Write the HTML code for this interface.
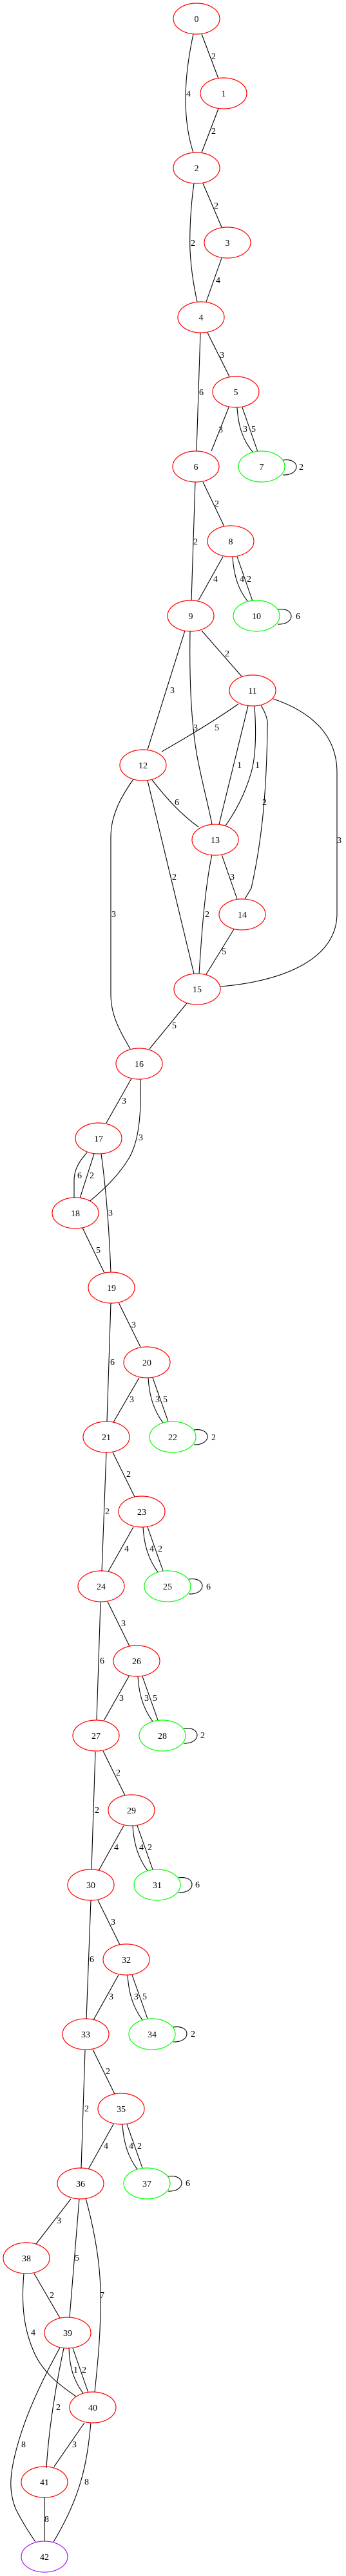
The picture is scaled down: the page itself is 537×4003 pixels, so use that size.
<!DOCTYPE html>
<html><head><meta charset="utf-8"><style>
html,body{margin:0;padding:0;background:#fff}
svg{display:block}
text{font-family:"Liberation Serif",serif;font-size:14px;fill:#000}
.n{fill:none;stroke-width:1.2}
.e{fill:none;stroke:#000;stroke-width:1.1}
</style></head><body>
<svg width="537" height="4003" viewBox="0 0 537 4003" xmlns="http://www.w3.org/2000/svg">
<g class="edges">
<path class="e" d="M313,53 L339,122"/>
<path class="e" d="M300,53 C290,100 285,145 290,190 C293,215 297,228 300,237"/>
<path class="e" d="M339,169 L313,237"/>
<path class="e" d="M315,285 L344,353"/>
<path class="e" d="M301,285 C296,320 294,360 295,390 C297,425 302,450 306,469"/>
<path class="e" d="M344,401 L320,469"/>
<path class="e" d="M322,517 L356,585"/>
<path class="e" d="M311,517 L305,701"/>
<path class="e" d="M355,633 L328,701"/>
<path class="e" d="M368,633 C370,665 378,685 392,702"/>
<path class="e" d="M376,633 L400,702"/>
<path class="e" d="M439,715 C467,711 467,739 439,738"/>
<path class="e" d="M315,749 L348,818"/>
<path class="e" d="M303,749 L297,933"/>
<path class="e" d="M346,865 L308,933"/>
<path class="e" d="M361,865 C363,897 371,917 384,934"/>
<path class="e" d="M368,865 L392,934"/>
<path class="e" d="M431,947 C459,943 459,971 431,970"/>
<path class="e" d="M313,980 L375,1051"/>
<path class="e" d="M287,980 L229,1165"/>
<path class="e" d="M295,981 C294,1040 295,1110 305,1170 C312,1210 322,1245 329,1281"/>
<path class="e" d="M370,1094 C340,1115 300,1140 251,1168"/>
<path class="e" d="M385,1097 L340,1281"/>
<path class="e" d="M395,1097 C398,1140 397,1175 390,1200 C380,1235 365,1262 350,1283"/>
<path class="e" d="M405,1096 C412,1108 416,1118 415,1128 C414,1220 408,1300 390,1380 L380,1397"/>
<path class="e" d="M424,1086 C480,1105 523,1140 523,1200 L523,1420 C523,1490 440,1525 342,1533"/>
<path class="e" d="M236,1212 C258,1240 280,1265 308,1285"/>
<path class="e" d="M229,1213 L301,1513"/>
<path class="e" d="M207,1211 C190,1235 172,1265 172,1300 L172,1545 C172,1580 188,1605 202,1630"/>
<path class="e" d="M329,1328 C318,1380 313,1450 309,1513"/>
<path class="e" d="M344,1328 L368,1397"/>
<path class="e" d="M363,1444 L320,1514"/>
<path class="e" d="M290,1559 L232,1630"/>
<path class="e" d="M204,1676 L165,1745"/>
<path class="e" d="M218,1677 C219,1720 218,1770 200,1800 C185,1825 165,1845 140,1866"/>
<path class="e" d="M135,1791 C120,1808 115,1820 115,1835 L115,1862"/>
<path class="e" d="M146,1793 L124,1862"/>
<path class="e" d="M157,1793 C165,1850 170,1920 172,1977"/>
<path class="e" d="M128,1908 L162,1978"/>
<path class="e" d="M184,2024 L218,2093"/>
<path class="e" d="M172,2025 L166,2209"/>
<path class="e" d="M216,2141 L176,2210"/>
<path class="e" d="M230,2141 C232,2173 240,2193 253,2211"/>
<path class="e" d="M237,2141 L261,2209"/>
<path class="e" d="M301,2222 C329,2218 329,2246 301,2245"/>
<path class="e" d="M175,2257 L209,2326"/>
<path class="e" d="M165,2257 L158,2442"/>
<path class="e" d="M207,2373 L168,2442"/>
<path class="e" d="M222,2373 C224,2405 232,2425 245,2443"/>
<path class="e" d="M229,2373 L253,2441"/>
<path class="e" d="M293,2454 C321,2450 321,2478 293,2477"/>
<path class="e" d="M167,2489 L201,2558"/>
<path class="e" d="M156,2490 L150,2673"/>
<path class="e" d="M200,2605 L161,2674"/>
<path class="e" d="M214,2605 C216,2637 224,2657 237,2675"/>
<path class="e" d="M221,2605 L245,2673"/>
<path class="e" d="M285,2686 C313,2682 313,2710 285,2709"/>
<path class="e" d="M160,2721 L194,2790"/>
<path class="e" d="M148,2722 L142,2905"/>
<path class="e" d="M192,2837 L153,2907"/>
<path class="e" d="M206,2837 C208,2869 216,2889 229,2907"/>
<path class="e" d="M213,2837 L237,2905"/>
<path class="e" d="M277,2918 C305,2914 305,2942 277,2941"/>
<path class="e" d="M152,2953 L186,3022"/>
<path class="e" d="M141,2953 L134,3138"/>
<path class="e" d="M184,3069 L145,3139"/>
<path class="e" d="M198,3069 C200,3101 208,3121 221,3139"/>
<path class="e" d="M205,3069 L229,3137"/>
<path class="e" d="M269,3150 C297,3146 297,3174 269,3173"/>
<path class="e" d="M144,3185 L178,3254"/>
<path class="e" d="M132,3186 L126,3370"/>
<path class="e" d="M176,3301 L137,3371"/>
<path class="e" d="M190,3301 C192,3333 200,3353 213,3371"/>
<path class="e" d="M197,3301 L221,3369"/>
<path class="e" d="M261,3382 C289,3378 289,3406 261,3405"/>
<path class="e" d="M110,3417 L56,3487"/>
<path class="e" d="M123,3417 L108,3601"/>
<path class="e" d="M133,3416 C145,3460 155,3510 156,3560 C157,3620 152,3670 147,3717"/>
<path class="e" d="M53,3533 L93,3602"/>
<path class="e" d="M37,3533 C33,3580 36,3620 55,3660 C70,3690 95,3708 118,3724"/>
<path class="e" d="M107,3649 C108,3680 115,3700 129,3719"/>
<path class="e" d="M113,3649 L137,3718"/>
<path class="e" d="M99,3649 C88,3700 76,3770 72,3835"/>
<path class="e" d="M93,3648 C70,3690 45,3740 30,3790 C15,3840 12,3870 25,3900 C35,3920 45,3935 55,3950"/>
<path class="e" d="M131,3765 L84,3833"/>
<path class="e" d="M141,3765 C135,3830 125,3880 83,3950"/>
<path class="e" d="M69,3880 L69,3949"/>
</g>
<g class="labels">
<text x="328" y="92">2</text>
<text x="289" y="150">4</text>
<text x="328" y="208">2</text>
<text x="332" y="324">2</text>
<text x="296" y="382">2</text>
<text x="335" y="440">4</text>
<text x="341" y="556">3</text>
<text x="309" y="614">6</text>
<text x="339" y="672">3</text>
<text x="377" y="671">3</text>
<text x="390" y="671">5</text>
<text x="464" y="730">2</text>
<text x="333" y="787">2</text>
<text x="300" y="846">2</text>
<text x="331" y="904">4</text>
<text x="372" y="904">4</text>
<text x="383" y="904">2</text>
<text x="459" y="962">6</text>
<text x="349" y="1020">2</text>
<text x="264" y="1077">3</text>
<text x="300" y="1135">3</text>
<text x="333" y="1135">5</text>
<text x="368" y="1193">1</text>
<text x="396" y="1193">1</text>
<text x="407" y="1251">2</text>
<text x="523" y="1310">3</text>
<text x="271" y="1251">6</text>
<text x="267" y="1367">2</text>
<text x="357" y="1367">3</text>
<text x="173" y="1425">3</text>
<text x="318" y="1425">2</text>
<text x="344" y="1483">5</text>
<text x="267" y="1598">5</text>
<text x="189" y="1715">3</text>
<text x="215" y="1772">3</text>
<text x="120" y="1831">6</text>
<text x="139" y="1831">2</text>
<text x="168" y="1889">3</text>
<text x="149" y="1947">5</text>
<text x="204" y="2063">3</text>
<text x="171" y="2121">6</text>
<text x="201" y="2179">3</text>
<text x="241" y="2179">3</text>
<text x="253" y="2179">5</text>
<text x="328" y="2238">2</text>
<text x="196" y="2295">2</text>
<text x="163" y="2353">2</text>
<text x="193" y="2411">4</text>
<text x="232" y="2411">4</text>
<text x="245" y="2411">2</text>
<text x="320" y="2470">6</text>
<text x="188" y="2527">3</text>
<text x="155" y="2585">6</text>
<text x="185" y="2643">3</text>
<text x="224" y="2643">3</text>
<text x="237" y="2643">5</text>
<text x="311" y="2701">2</text>
<text x="180" y="2759">2</text>
<text x="147" y="2817">2</text>
<text x="177" y="2875">4</text>
<text x="216" y="2875">4</text>
<text x="229" y="2875">2</text>
<text x="303" y="2933">6</text>
<text x="172" y="2991">3</text>
<text x="139" y="3049">6</text>
<text x="169" y="3107">3</text>
<text x="208" y="3107">3</text>
<text x="221" y="3107">5</text>
<text x="296" y="3165">2</text>
<text x="164" y="3223">2</text>
<text x="131" y="3281">2</text>
<text x="161" y="3339">4</text>
<text x="200" y="3339">4</text>
<text x="213" y="3339">2</text>
<text x="288" y="3397">6</text>
<text x="88" y="3455">3</text>
<text x="116" y="3513">5</text>
<text x="155" y="3571">7</text>
<text x="77" y="3571">2</text>
<text x="48" y="3629">4</text>
<text x="114" y="3687">1</text>
<text x="127" y="3687">2</text>
<text x="87" y="3745">2</text>
<text x="33" y="3803">8</text>
<text x="112" y="3803">3</text>
<text x="131" y="3861">8</text>
<text x="69" y="3919">8</text>
</g>
<g class="nodes" text-anchor="middle">
<ellipse class="n" stroke="#ff0000" cx="305" cy="29" rx="36" ry="24"/><text x="305" y="34">0</text>
<ellipse class="n" stroke="#ff0000" cx="347" cy="145" rx="36" ry="24"/><text x="347" y="150">1</text>
<ellipse class="n" stroke="#ff0000" cx="305" cy="261" rx="36" ry="24"/><text x="305" y="266">2</text>
<ellipse class="n" stroke="#ff0000" cx="353" cy="377" rx="36" ry="24"/><text x="353" y="382">3</text>
<ellipse class="n" stroke="#ff0000" cx="312" cy="493" rx="36" ry="24"/><text x="312" y="498">4</text>
<ellipse class="n" stroke="#ff0000" cx="366" cy="609" rx="36" ry="24"/><text x="366" y="614">5</text>
<ellipse class="n" stroke="#ff0000" cx="304" cy="725" rx="36" ry="24"/><text x="304" y="730">6</text>
<ellipse class="n" stroke="#00ff00" cx="406" cy="725" rx="36" ry="24"/><text x="406" y="730">7</text>
<ellipse class="n" stroke="#ff0000" cx="358" cy="841" rx="36" ry="24"/><text x="358" y="846">8</text>
<ellipse class="n" stroke="#ff0000" cx="296" cy="957" rx="36" ry="24"/><text x="296" y="962">9</text>
<ellipse class="n" stroke="#00ff00" cx="398" cy="957" rx="36" ry="24"/><text x="398" y="962">10</text>
<ellipse class="n" stroke="#ff0000" cx="392" cy="1073" rx="36" ry="24"/><text x="392" y="1078">11</text>
<ellipse class="n" stroke="#ff0000" cx="222" cy="1189" rx="36" ry="24"/><text x="222" y="1194">12</text>
<ellipse class="n" stroke="#ff0000" cx="334" cy="1305" rx="36" ry="24"/><text x="334" y="1310">13</text>
<ellipse class="n" stroke="#ff0000" cx="376" cy="1421" rx="36" ry="24"/><text x="376" y="1426">14</text>
<ellipse class="n" stroke="#ff0000" cx="306" cy="1537" rx="36" ry="24"/><text x="306" y="1542">15</text>
<ellipse class="n" stroke="#ff0000" cx="216" cy="1653" rx="36" ry="24"/><text x="216" y="1658">16</text>
<ellipse class="n" stroke="#ff0000" cx="153" cy="1769" rx="36" ry="24"/><text x="153" y="1774">17</text>
<ellipse class="n" stroke="#ff0000" cx="117" cy="1885" rx="36" ry="24"/><text x="117" y="1890">18</text>
<ellipse class="n" stroke="#ff0000" cx="173" cy="2001" rx="36" ry="24"/><text x="173" y="2006">19</text>
<ellipse class="n" stroke="#ff0000" cx="228" cy="2117" rx="36" ry="24"/><text x="228" y="2122">20</text>
<ellipse class="n" stroke="#ff0000" cx="165" cy="2233" rx="36" ry="24"/><text x="165" y="2238">21</text>
<ellipse class="n" stroke="#00ff00" cx="268" cy="2233" rx="36" ry="24"/><text x="268" y="2238">22</text>
<ellipse class="n" stroke="#ff0000" cx="220" cy="2349" rx="36" ry="24"/><text x="220" y="2354">23</text>
<ellipse class="n" stroke="#ff0000" cx="157" cy="2465" rx="36" ry="24"/><text x="157" y="2470">24</text>
<ellipse class="n" stroke="#00ff00" cx="260" cy="2465" rx="36" ry="24"/><text x="260" y="2470">25</text>
<ellipse class="n" stroke="#ff0000" cx="212" cy="2581" rx="36" ry="24"/><text x="212" y="2586">26</text>
<ellipse class="n" stroke="#ff0000" cx="149" cy="2697" rx="36" ry="24"/><text x="149" y="2702">27</text>
<ellipse class="n" stroke="#00ff00" cx="252" cy="2697" rx="36" ry="24"/><text x="252" y="2702">28</text>
<ellipse class="n" stroke="#ff0000" cx="204" cy="2813" rx="36" ry="24"/><text x="204" y="2818">29</text>
<ellipse class="n" stroke="#ff0000" cx="141" cy="2929" rx="36" ry="24"/><text x="141" y="2934">30</text>
<ellipse class="n" stroke="#00ff00" cx="244" cy="2929" rx="36" ry="24"/><text x="244" y="2934">31</text>
<ellipse class="n" stroke="#ff0000" cx="196" cy="3045" rx="36" ry="24"/><text x="196" y="3050">32</text>
<ellipse class="n" stroke="#ff0000" cx="133" cy="3161" rx="36" ry="24"/><text x="133" y="3166">33</text>
<ellipse class="n" stroke="#00ff00" cx="236" cy="3161" rx="36" ry="24"/><text x="236" y="3166">34</text>
<ellipse class="n" stroke="#ff0000" cx="188" cy="3277" rx="36" ry="24"/><text x="188" y="3282">35</text>
<ellipse class="n" stroke="#ff0000" cx="125" cy="3393" rx="36" ry="24"/><text x="125" y="3398">36</text>
<ellipse class="n" stroke="#00ff00" cx="228" cy="3393" rx="36" ry="24"/><text x="228" y="3398">37</text>
<ellipse class="n" stroke="#ff0000" cx="41" cy="3509" rx="36" ry="24"/><text x="41" y="3514">38</text>
<ellipse class="n" stroke="#ff0000" cx="105" cy="3625" rx="36" ry="24"/><text x="105" y="3630">39</text>
<ellipse class="n" stroke="#ff0000" cx="144" cy="3741" rx="36" ry="24"/><text x="144" y="3746">40</text>
<ellipse class="n" stroke="#ff0000" cx="69" cy="3857" rx="36" ry="24"/><text x="69" y="3862">41</text>
<ellipse class="n" stroke="#a020f0" cx="69" cy="3973" rx="36" ry="24"/><text x="69" y="3978">42</text>
</g>
</svg>
</body></html>
